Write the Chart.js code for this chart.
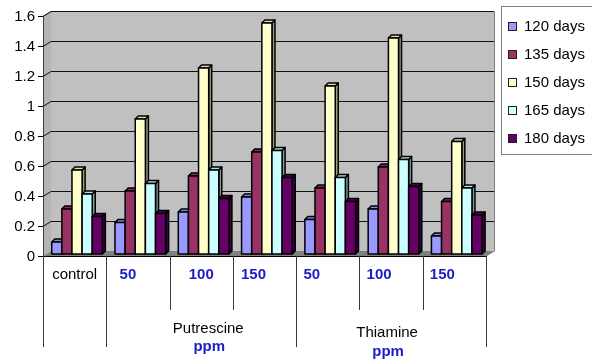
<!DOCTYPE html>
<html>
<head>
<meta charset="utf-8">
<script src="https://cdn.jsdelivr.net/npm/chart.js@4/dist/chart.umd.min.js"></script>
<style>
  html, body { margin: 0; padding: 0; background: #fff; }
  #wrap { width: 592px; height: 360px; }
</style>
</head>
<body>
<div id="wrap"><canvas id="c" width="592" height="360"></canvas></div>
<script>
// Category axis: control plus three doses for each treatment
const categories = ['control', '50', '100', '150', '50', '100', '150'];
const groups = ['Putrescine', 'Thiamine'];
const groupUnit = 'ppm';

// Series (one per sampling age)
const seriesNames = ['120 days', '135 days', '150 days', '165 days', '180 days'];
const days120 = [0.08, 0.21, 0.28, 0.38, 0.23, 0.30, 0.12];
const days135 = [0.30, 0.42, 0.52, 0.68, 0.44, 0.58, 0.35];
const days150 = [0.56, 0.90, 1.24, 1.54, 1.12, 1.44, 0.75];
const days165 = [0.40, 0.47, 0.56, 0.69, 0.51, 0.63, 0.44];
const days180 = [0.25, 0.27, 0.37, 0.51, 0.35, 0.45, 0.26];

// Value axis tick labels
const yTicks = [0, 0.2, 0.4, 0.6, 0.8, 1, 1.2, 1.4, 1.6];
const yTickLabels = ['0', '0.2', '0.4', '0.6', '0.8', '1', '1.2', '1.4', '1.6'];

const seriesValues = [days120, days135, days150, days165, days180];
const seriesColors = ['#9999ff', '#993366', '#ffffcc', '#ccffff', '#660066'];

// Pseudo-3D look: wall depth and the depth at which the columns stand
const WALL_DX = 8, WALL_DY = -5;
const BAR_DX = 2.4, BAR_DY = -2;
const CAP = 3;
const FONT = '"Liberation Sans", Arial, sans-serif';
const BLUE = '#1c1cc8';
// horizontal nudges of the category / group captions
const catNudge = [0, -10, 0, -11, -16, -12, -12];
const groupNudge = [7, -4];

function shade(hex, f) {
  const n = parseInt(hex.slice(1), 16);
  const r = Math.round(((n >> 16) & 255) * f);
  const g = Math.round(((n >> 8) & 255) * f);
  const b = Math.round((n & 255) * f);
  return `rgb(${r},${g},${b})`;
}

function frame(chart) {
  const x = chart.scales.x, y = chart.scales.y;
  const catW = x.getPixelForValue(1) - x.getPixelForValue(0);
  return {
    x, y, catW,
    L: x.getPixelForValue(0) - catW / 2,
    R: x.getPixelForValue(categories.length - 1) + catW / 2,
    T: y.getPixelForValue(yTicks[yTicks.length - 1]),
    B: y.getPixelForValue(0)
  };
}

const wallsPlugin = {
  id: 'walls',
  beforeDatasetsDraw(chart) {
    const { ctx } = chart;
    const { y, L, R, T, B } = frame(chart);
    ctx.save();
    // back wall
    ctx.fillStyle = '#c0c0c0';
    ctx.fillRect(L + WALL_DX, T + WALL_DY, R - L, B - T);
    // side wall
    ctx.fillStyle = '#b4b4b4';
    ctx.beginPath();
    ctx.moveTo(L, T); ctx.lineTo(L + WALL_DX, T + WALL_DY);
    ctx.lineTo(L + WALL_DX, B + WALL_DY); ctx.lineTo(L, B); ctx.closePath();
    ctx.fill();
    // floor
    ctx.fillStyle = '#808080';
    ctx.beginPath();
    ctx.moveTo(L, B); ctx.lineTo(R, B);
    ctx.lineTo(R + WALL_DX, B + WALL_DY); ctx.lineTo(L + WALL_DX, B + WALL_DY); ctx.closePath();
    ctx.fill();
    // wall outline
    ctx.strokeStyle = '#808080';
    ctx.lineWidth = 1;
    ctx.beginPath();
    ctx.moveTo(L + 0.5, T); ctx.lineTo(L + WALL_DX + 0.5, T + WALL_DY + 0.5);
    ctx.lineTo(R + WALL_DX + 0.5, T + WALL_DY + 0.5);
    ctx.lineTo(R + WALL_DX + 0.5, B + WALL_DY);
    ctx.lineTo(R + 0.5, B);
    ctx.stroke();
    // gridlines on back and side walls
    ctx.strokeStyle = '#111';
    yTicks.forEach((v, i) => {
      if (i === 0) return;
      const py = Math.round(y.getPixelForValue(v)) + 0.5;
      ctx.beginPath();
      ctx.moveTo(L, py);
      ctx.lineTo(L + WALL_DX, py + WALL_DY);
      ctx.lineTo(R + WALL_DX, py + WALL_DY);
      ctx.stroke();
    });
    // value axis line, ticks and labels
    ctx.strokeStyle = '#404040';
    ctx.beginPath();
    ctx.moveTo(L + 0.5, T); ctx.lineTo(L + 0.5, B);
    ctx.stroke();
    ctx.fillStyle = '#000';
    ctx.font = `15px ${FONT}`;
    ctx.textAlign = 'right';
    ctx.textBaseline = 'middle';
    yTicks.forEach((v, i) => {
      const py = Math.round(y.getPixelForValue(v)) + 0.5;
      ctx.strokeStyle = '#000';
      ctx.beginPath();
      ctx.moveTo(L - 5, py); ctx.lineTo(L, py);
      ctx.stroke();
      ctx.fillText(yTickLabels[i], L - 8, py);
    });
    ctx.restore();
    // columns stand a little behind the front plane
    ctx.save();
    ctx.translate(BAR_DX, BAR_DY);
  },
  afterDatasetsDraw(chart) {
    const { ctx } = chart;
    const metas = chart.getSortedVisibleDatasetMetas();
    // redraw every column as a box, left to right, so each front hides the previous side
    for (let c = 0; c < categories.length; c++) {
      metas.forEach(meta => {
        const bar = meta.data[c];
        if (!bar) return;
        const color = seriesColors[meta.index];
        const p = bar.getProps(['x', 'y', 'base', 'width'], true);
        const x0 = p.x - p.width / 2, x1 = p.x + p.width / 2;
        const top = p.y, base = p.base;
        ctx.lineWidth = 1.5;
        ctx.strokeStyle = '#000';
        ctx.lineJoin = 'round';
        // side face
        ctx.fillStyle = shade(color, 0.62);
        ctx.beginPath();
        ctx.moveTo(x1, top); ctx.lineTo(x1 + CAP, top - CAP);
        ctx.lineTo(x1 + CAP, base - CAP); ctx.lineTo(x1, base); ctx.closePath();
        ctx.fill(); ctx.stroke();
        // top face
        ctx.fillStyle = shade(color, 0.88);
        ctx.beginPath();
        ctx.moveTo(x0, top); ctx.lineTo(x0 + CAP, top - CAP);
        ctx.lineTo(x1 + CAP, top - CAP); ctx.lineTo(x1, top); ctx.closePath();
        ctx.fill(); ctx.stroke();
        // front face
        ctx.fillStyle = color;
        ctx.fillRect(x0, top, p.width, base - top);
        ctx.strokeRect(x0, top, p.width, base - top);
      });
    }
    ctx.restore();
  },
  afterDraw(chart) {
    const { ctx } = chart;
    const { x, catW, L, R, B } = frame(chart);
    ctx.save();
    // category axis line
    ctx.strokeStyle = '#000';
    ctx.lineWidth = 1;
    ctx.beginPath();
    ctx.moveTo(L, Math.round(B) + 0.5); ctx.lineTo(R, Math.round(B) + 0.5);
    ctx.stroke();
    // separators between categories (longer at group edges)
    ctx.strokeStyle = '#3a3a3a';
    for (let i = 0; i <= categories.length; i++) {
      const px = Math.round(L + i * catW) + 0.5;
      const long = (i === 0 || i === 1 || i === 4 || i === 7);
      ctx.beginPath();
      ctx.moveTo(px, B); ctx.lineTo(px, long ? 347 : 310);
      ctx.stroke();
    }
    // category captions
    ctx.textAlign = 'center';
    ctx.textBaseline = 'middle';
    categories.forEach((c, i) => {
      const px = x.getPixelForValue(i) + catNudge[i];
      if (i === 0) { ctx.fillStyle = '#000'; ctx.font = `15px ${FONT}`; }
      else { ctx.fillStyle = BLUE; ctx.font = `bold 15px ${FONT}`; }
      ctx.fillText(c, px, 275);
    });
    // treatment captions with unit
    const gy = [[329, 347], [333, 352]];
    groups.forEach((g, k) => {
      const px = x.getPixelForValue(2 + 3 * k) + groupNudge[k];
      ctx.fillStyle = '#000';
      ctx.font = `15px ${FONT}`;
      ctx.fillText(g, px, gy[k][0]);
      ctx.fillStyle = BLUE;
      ctx.font = `bold 15px ${FONT}`;
      ctx.fillText(groupUnit, px + 1, gy[k][1]);
    });
    // legend box
    ctx.fillStyle = '#fff';
    ctx.strokeStyle = '#808080';
    ctx.fillRect(501.5, 6.5, 100, 148);
    ctx.strokeRect(501.5, 6.5, 100, 148);
    ctx.textAlign = 'left';
    ctx.font = `15px ${FONT}`;
    chart.data.datasets.forEach((ds, i) => {
      const cy = 26.5 + i * 28;
      ctx.fillStyle = seriesColors[i];
      ctx.fillRect(508.5, cy - 4, 8, 8);
      ctx.strokeStyle = '#202020';
      ctx.strokeRect(508.5, cy - 4, 8, 8);
      ctx.fillStyle = '#000';
      ctx.fillText(ds.label, 524, cy);
    });
    ctx.restore();
  }
};

new Chart(document.getElementById('c'), {
  type: 'bar',
  data: {
    labels: categories,
    datasets: seriesNames.map((name, i) => ({
      label: name,
      data: seriesValues[i],
      backgroundColor: seriesColors[i],
      borderColor: '#000',
      borderWidth: 0,
      categoryPercentage: 0.8,
      barPercentage: 1
    }))
  },
  options: {
    responsive: false,
    animation: false,
    devicePixelRatio: 1,
    layout: { padding: { left: 43, right: 106, top: 16, bottom: 104 } },
    scales: {
      x: { display: false, offset: true },
      y: { display: false, min: 0, max: 1.6 }
    },
    plugins: { legend: { display: false }, tooltip: { enabled: false } }
  },
  plugins: [wallsPlugin]
});
</script>
</body>
</html>
